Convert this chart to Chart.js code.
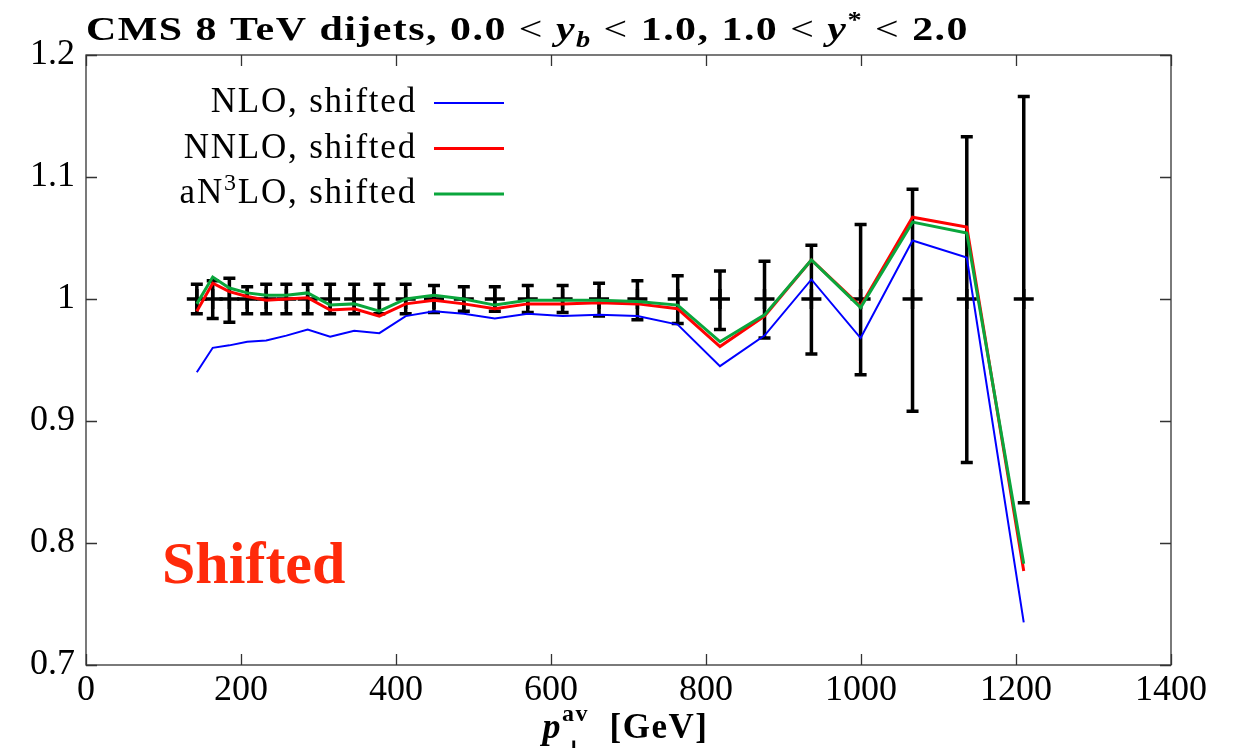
<!DOCTYPE html>
<html>
<head>
<meta charset="utf-8">
<script src="https://cdn.jsdelivr.net/npm/chart.js@4.4.1/dist/chart.umd.min.js"></script>
<style>
  html, body { margin: 0; padding: 0; background: #ffffff; }
  #wrap { width: 1234px; height: 748px; position: relative; }
</style>
</head>
<body>
<div id="wrap"><canvas id="c" width="1234" height="748"></canvas></div>
<script>
// Bin centres in average dijet pT [GeV]
const pT = [143, 163.5, 185, 208, 232.5, 258.5, 286, 315, 346, 378.5, 412.5, 449, 487.5,
            527.5, 570, 615, 662, 711.5, 763.5, 818, 875.5, 936, 999.5, 1066.5, 1136.5, 1210];

// Theory / data ratios after the shift
const nloShifted   = [0.940, 0.960, 0.962, 0.965, 0.966, 0.970, 0.975, 0.969, 0.974, 0.972, 0.986, 0.990, 0.988,
                      0.984, 0.988, 0.986, 0.987, 0.986, 0.979, 0.945, 0.970, 1.016, 0.968, 1.048, 1.034, 0.735];
const nnloShifted  = [0.990, 1.013, 1.006, 1.002, 0.999, 1.000, 1.001, 0.991, 0.992, 0.986, 0.996, 0.999, 0.996,
                      0.992, 0.996, 0.996, 0.997, 0.996, 0.992, 0.961, 0.986, 1.032, 0.994, 1.067, 1.059, 0.777];
const an3loShifted = [0.996, 1.018, 1.009, 1.005, 1.003, 1.003, 1.005, 0.995, 0.996, 0.990, 1.000, 1.003, 1.000,
                      0.995, 0.999, 0.999, 0.999, 0.998, 0.995, 0.965, 0.987, 1.032, 0.993, 1.063, 1.054, 0.783];

// Data points (normalised to one) with their uncertainties
const dataRatio = [1, 1, 1, 1, 1, 1, 1, 1, 1, 1, 1, 1, 1, 1, 1, 1, 1, 1, 1, 1, 1, 1, 1, 1, 1, 1];
const errUp   = [0.012, 0.015, 0.017, 0.010, 0.012, 0.012, 0.012, 0.012, 0.012, 0.012, 0.012, 0.011, 0.010,
                 0.010, 0.011, 0.011, 0.013, 0.015, 0.019, 0.023, 0.031, 0.044, 0.061, 0.090, 0.133, 0.166];
const errDown = [0.012, 0.016, 0.019, 0.012, 0.012, 0.012, 0.012, 0.012, 0.012, 0.012, 0.012, 0.011, 0.010,
                 0.010, 0.011, 0.011, 0.014, 0.017, 0.020, 0.025, 0.032, 0.045, 0.062, 0.092, 0.134, 0.167];

// Axis ticks
const xTicks = [0, 200, 400, 600, 800, 1000, 1200, 1400];
const yTicks = [0.7, 0.8, 0.9, 1.0, 1.1, 1.2];

const SERIF = '"Liberation Serif", "DejaVu Serif", serif';

const toPoints = (ys) => pT.map((x, i) => ({ x: x, y: ys[i] }));

function setSpacing(ctx, px) {
  if ('letterSpacing' in ctx) ctx.letterSpacing = px + 'px';
}

// Draws a run of differently styled text pieces starting at (x, y)
function drawRich(ctx, pieces, x, y) {
  let cx = x;
  for (const p of pieces) {
    ctx.font = p.font;
    ctx.fillStyle = p.color || '#000';
    ctx.fillText(p.text, cx + (p.dx || 0), y + (p.dy || 0));
    if (!p.noAdvance) cx += ctx.measureText(p.text).width;
  }
  return cx - x;
}
function richWidth(ctx, pieces) {
  let w = 0;
  for (const p of pieces) {
    if (p.noAdvance) continue;
    ctx.font = p.font;
    w += ctx.measureText(p.text).width;
  }
  return w;
}

// Vertical error bars with caps, drawn below the curves
const errorBars = {
  id: 'errorBars',
  beforeDatasetsDraw(chart) {
    const { ctx, scales: { x, y } } = chart;
    ctx.save();
    ctx.strokeStyle = '#000';
    ctx.lineWidth = 3.5;
    ctx.lineCap = 'butt';
    for (let i = 0; i < pT.length; i++) {
      const px = x.getPixelForValue(pT[i]);
      const top = y.getPixelForValue(dataRatio[i] + errUp[i]);
      const bot = y.getPixelForValue(dataRatio[i] - errDown[i]);
      ctx.beginPath();
      ctx.moveTo(px, top); ctx.lineTo(px, bot);
      ctx.moveTo(px - 6, top); ctx.lineTo(px + 6, top);
      ctx.moveTo(px - 6, bot); ctx.lineTo(px + 6, bot);
      ctx.stroke();
    }
    ctx.restore();
  }
};

// Box frame with inward ticks on all four sides
const frame = {
  id: 'frame',
  afterDraw(chart) {
    const { ctx, chartArea: a, scales: { x, y } } = chart;
    ctx.save();
    ctx.strokeStyle = '#333';
    ctx.lineWidth = 1.3;
    ctx.strokeRect(a.left, a.top, a.right - a.left, a.bottom - a.top);
    const L = 11;
    ctx.beginPath();
    for (const v of xTicks) {
      const px = Math.round(x.getPixelForValue(v)) + 0.5;
      ctx.moveTo(px, a.bottom); ctx.lineTo(px, a.bottom - L);
      ctx.moveTo(px, a.top); ctx.lineTo(px, a.top + L);
    }
    for (const v of yTicks) {
      const py = Math.round(y.getPixelForValue(v)) + 0.5;
      ctx.moveTo(a.left, py); ctx.lineTo(a.left + L, py);
      ctx.moveTo(a.right, py); ctx.lineTo(a.right - L, py);
    }
    ctx.stroke();
    ctx.restore();
  }
};

// Key: right-aligned text followed by a line sample
const key = {
  id: 'key',
  afterDraw(chart) {
    const { ctx, chartArea: a } = chart;
    ctx.save();
    ctx.textAlign = 'left';
    ctx.textBaseline = 'alphabetic';
    setSpacing(ctx, 1.8);
    const textRight = a.left + 331;
    const sampleL = a.left + 348, sampleR = a.left + 418;
    let base = a.top + 57;
    chart.data.datasets.forEach((ds) => {
      if (!ds.inKey) return;
      const pieces = ds.keyPieces;
      const w = richWidth(ctx, pieces);
      drawRich(ctx, pieces, textRight - w, base);
      ctx.strokeStyle = ds.borderColor;
      ctx.lineWidth = ds.borderWidth;
      ctx.beginPath();
      ctx.moveTo(sampleL, base - 9);
      ctx.lineTo(sampleR, base - 9);
      ctx.stroke();
      base += 45.5;
    });
    ctx.restore();
  }
};

// Title, axis label and the "Shifted" tag
const labels = {
  id: 'labels',
  afterDraw(chart) {
    const { ctx, chartArea: a } = chart;
    ctx.save();
    ctx.textAlign = 'left';
    ctx.textBaseline = 'alphabetic';
    const B = 'bold 34px ' + SERIF, R = '34px ' + SERIF, BI = 'italic bold 34px ' + SERIF,
          S = 'bold 23px ' + SERIF, SI = 'italic bold 23px ' + SERIF;
    const title = [
      { text: 'CMS 8 TeV dijets, 0.0 ', font: B },
      { text: '<', font: R },
      { text: ' ', font: B },
      { text: 'y', font: BI },
      { text: 'b', font: SI, dy: 7 },
      { text: ' ', font: B },
      { text: '<', font: R },
      { text: ' 1.0, 1.0 ', font: B },
      { text: '<', font: R },
      { text: ' ', font: B },
      { text: 'y', font: BI },
      { text: '*', font: S, dy: -13 },
      { text: ' ', font: B },
      { text: '<', font: R },
      { text: ' 2.0', font: B }
    ];
    // a wide bold face: slight tracking plus a horizontal stretch to the full title width
    setSpacing(ctx, 1.2);
    const titleWidth = 883;
    const w0 = richWidth(ctx, title);
    const sx = titleWidth / w0;
    ctx.save();
    ctx.translate(a.left, 40);
    ctx.scale(sx, 1);
    drawRich(ctx, title, 0, 0);
    ctx.restore();

    setSpacing(ctx, 1.5);
    const XB = 'bold 35px ' + SERIF, XBI = 'italic bold 36px ' + SERIF, XS = 'bold 24px ' + SERIF;
    const xl = [
      { text: 'p', font: XBI },
      { text: '\u22A5', font: XS, dy: 19, dx: 0, noAdvance: true },
      { text: 'av', font: XS, dy: -17 },
      { text: '  [GeV]', font: XB }
    ];
    const w = richWidth(ctx, xl);
    drawRich(ctx, xl, (a.left + a.right) / 2 - w / 2 - 3, 738);

    setSpacing(ctx, 0);
    ctx.font = 'bold 60px ' + SERIF;
    ctx.fillStyle = '#ff2a0a';
    ctx.fillText('Shifted', a.left + 76, 583);
    ctx.restore();
  }
};

new Chart(document.getElementById('c').getContext('2d'), {
  type: 'line',
  data: {
    datasets: [
      {
        label: 'NLO, shifted', inKey: true, data: toPoints(nloShifted),
        borderColor: '#0000ff', borderWidth: 2, pointRadius: 0, tension: 0, order: 3,
        keyPieces: [{ text: 'NLO, shifted', font: '35px ' + SERIF }]
      },
      {
        label: 'NNLO, shifted', inKey: true, data: toPoints(nnloShifted),
        borderColor: '#ff0000', borderWidth: 3, pointRadius: 0, tension: 0, order: 2,
        keyPieces: [{ text: 'NNLO, shifted', font: '35px ' + SERIF }]
      },
      {
        label: 'aN3LO, shifted', inKey: true, data: toPoints(an3loShifted),
        borderColor: '#0aa63c', borderWidth: 3, pointRadius: 0, tension: 0, order: 1,
        keyPieces: [
          { text: 'aN', font: '35px ' + SERIF },
          { text: '3', font: '24px ' + SERIF, dy: -13 },
          { text: 'LO, shifted', font: '35px ' + SERIF }
        ]
      },
      {
        label: 'CMS data', type: 'scatter', data: toPoints(dataRatio),
        pointStyle: 'cross', pointRadius: 10, borderColor: '#000', backgroundColor: '#000',
        pointBorderWidth: 3.5, borderWidth: 3.5, showLine: false, order: 10
      }
    ]
  },
  options: {
    responsive: false,
    animation: false,
    events: [],
    layout: { padding: { left: 0, top: 55, right: 63, bottom: 0 } },
    plugins: { legend: { display: false }, tooltip: { enabled: false }, title: { display: false } },
    scales: {
      x: {
        type: 'linear', min: 0, max: 1400,
        grid: { display: false, drawTicks: false }, border: { display: false },
        afterBuildTicks: (s) => { s.ticks = xTicks.map(v => ({ value: v })); },
        afterFit: (s) => { s.height = 83; },
        ticks: { color: '#000', padding: 4, maxRotation: 0, autoSkip: false,
                 font: { family: SERIF, size: 36 }, callback: (v) => String(v) }
      },
      y: {
        type: 'linear', min: 0.7, max: 1.2,
        grid: { display: false, drawTicks: false }, border: { display: false },
        afterBuildTicks: (s) => { s.ticks = yTicks.map(v => ({ value: v })); },
        afterFit: (s) => { s.width = 86; },
        ticks: { color: '#000', padding: 11, autoSkip: false,
                 font: { family: SERIF, size: 36 }, callback: (v) => String(+Number(v).toFixed(1)) }
      }
    }
  },
  plugins: [errorBars, frame, key, labels]
});
</script>
</body>
</html>
